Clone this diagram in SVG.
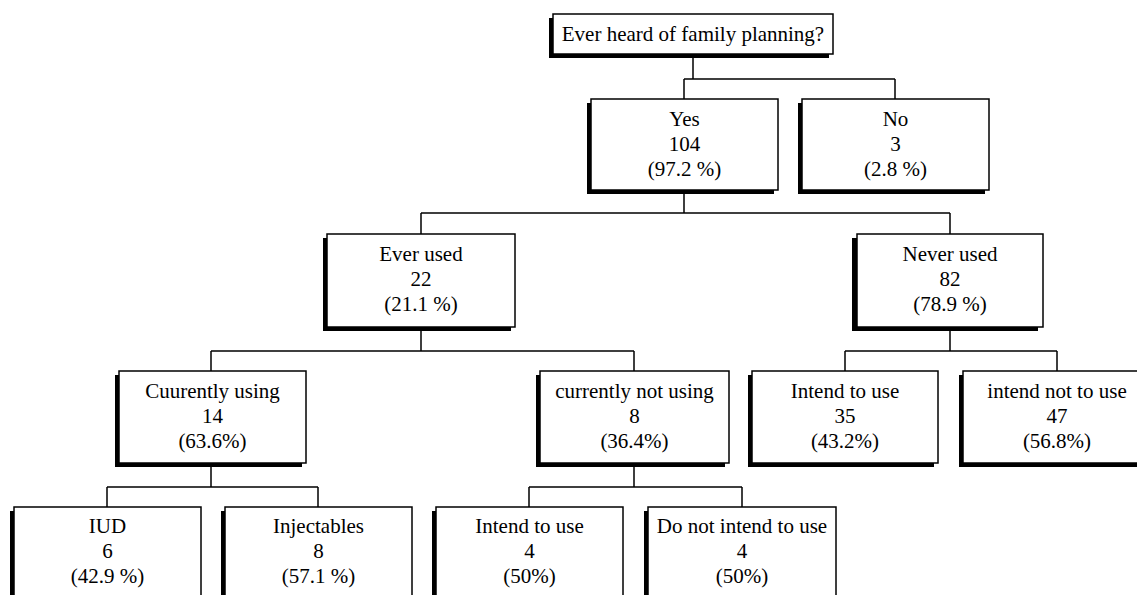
<svg xmlns="http://www.w3.org/2000/svg" width="1137" height="595" viewBox="0 0 1137 595">
<defs>
<style>
.box{fill:#fff;stroke:#000;stroke-width:1.5}
.sh{fill:#000}
.t{font-family:"Liberation Serif","Times New Roman",serif;font-size:21px;fill:#000;text-anchor:middle}
.c{fill:none;stroke:#000;stroke-width:1.5}
</style>
</defs>
<rect width="1137" height="595" fill="#fff"/>
<g id="connectors">
<path class="c" d="M693 54V79M684 79H895M684 79V99M895 79V99"/>
<path class="c" d="M684 190V213M421 213H950M421 213V234M950 213V234"/>
<path class="c" d="M421 327V351M211 351H634M211 351V371M634 351V371"/>
<path class="c" d="M950 327V351M845 351H1057M845 351V371M1057 351V371"/>
<path class="c" d="M211 463V487M107 487H318M107 487V507M318 487V507"/>
<path class="c" d="M634 463V487M529 487H742M529 487V507M742 487V507"/>
</g>
<g id="root">
<rect class="sh" x="549" y="18" width="280" height="40"/>
<rect class="box" x="553" y="14" width="280" height="40"/>
<text class="t" x="693" y="41">Ever heard of family planning?</text>
</g>
<g id="yes">
<rect class="sh" x="587" y="103" width="187" height="91"/>
<rect class="box" x="591" y="99" width="187" height="91"/>
<text class="t" x="684.5" y="126">Yes</text>
<text class="t" x="684.5" y="151">104</text>
<text class="t" x="684.5" y="176">(97.2 %)</text>
</g>
<g id="no">
<rect class="sh" x="798" y="103" width="187" height="91"/>
<rect class="box" x="802" y="99" width="187" height="91"/>
<text class="t" x="895.5" y="126">No</text>
<text class="t" x="895.5" y="151">3</text>
<text class="t" x="895.5" y="176">(2.8 %)</text>
</g>
<g id="ever-used">
<rect class="sh" x="323" y="238" width="188" height="93"/>
<rect class="box" x="327" y="234" width="188" height="93"/>
<text class="t" x="421" y="261">Ever used</text>
<text class="t" x="421" y="286">22</text>
<text class="t" x="421" y="311">(21.1 %)</text>
</g>
<g id="never-used">
<rect class="sh" x="852" y="238" width="186" height="93"/>
<rect class="box" x="857" y="234" width="186" height="93"/>
<text class="t" x="950" y="261">Never used</text>
<text class="t" x="950" y="286">82</text>
<text class="t" x="950" y="311">(78.9 %)</text>
</g>
<g id="currently-using">
<rect class="sh" x="115" y="375" width="187" height="92"/>
<rect class="box" x="119" y="371" width="187" height="92"/>
<text class="t" x="212.5" y="398">Cuurently using</text>
<text class="t" x="212.5" y="423">14</text>
<text class="t" x="212.5" y="448">(63.6%)</text>
</g>
<g id="currently-not-using">
<rect class="sh" x="536" y="375" width="189" height="92"/>
<rect class="box" x="540" y="371" width="189" height="92"/>
<text class="t" x="634.5" y="398">currently not using</text>
<text class="t" x="634.5" y="423">8</text>
<text class="t" x="634.5" y="448">(36.4%)</text>
</g>
<g id="intend-to-use-1">
<rect class="sh" x="748" y="375" width="186" height="92"/>
<rect class="box" x="752" y="371" width="186" height="92"/>
<text class="t" x="845" y="398">Intend to use</text>
<text class="t" x="845" y="423">35</text>
<text class="t" x="845" y="448">(43.2%)</text>
</g>
<g id="intend-not-to-use">
<rect class="sh" x="959" y="375" width="188" height="92"/>
<rect class="box" x="963" y="371" width="188" height="92"/>
<text class="t" x="1057" y="398">intend not to use</text>
<text class="t" x="1057" y="423">47</text>
<text class="t" x="1057" y="448">(56.8%)</text>
</g>
<g id="iud">
<rect class="sh" x="10" y="511" width="187" height="100"/>
<rect class="box" x="14" y="507" width="187" height="100"/>
<text class="t" x="107.5" y="533">IUD</text>
<text class="t" x="107.5" y="558">6</text>
<text class="t" x="107.5" y="583">(42.9 %)</text>
</g>
<g id="injectables">
<rect class="sh" x="221" y="511" width="187" height="100"/>
<rect class="box" x="225" y="507" width="187" height="100"/>
<text class="t" x="318.5" y="533">Injectables</text>
<text class="t" x="318.5" y="558">8</text>
<text class="t" x="318.5" y="583">(57.1 %)</text>
</g>
<g id="intend-to-use-2">
<rect class="sh" x="432" y="511" width="187" height="100"/>
<rect class="box" x="436" y="507" width="187" height="100"/>
<text class="t" x="529.5" y="533">Intend to use</text>
<text class="t" x="529.5" y="558">4</text>
<text class="t" x="529.5" y="583">(50%)</text>
</g>
<g id="do-not-intend">
<rect class="sh" x="644" y="511" width="188" height="100"/>
<rect class="box" x="648" y="507" width="188" height="100"/>
<text class="t" x="742" y="533">Do not intend to use</text>
<text class="t" x="742" y="558">4</text>
<text class="t" x="742" y="583">(50%)</text>
</g>
</svg>
